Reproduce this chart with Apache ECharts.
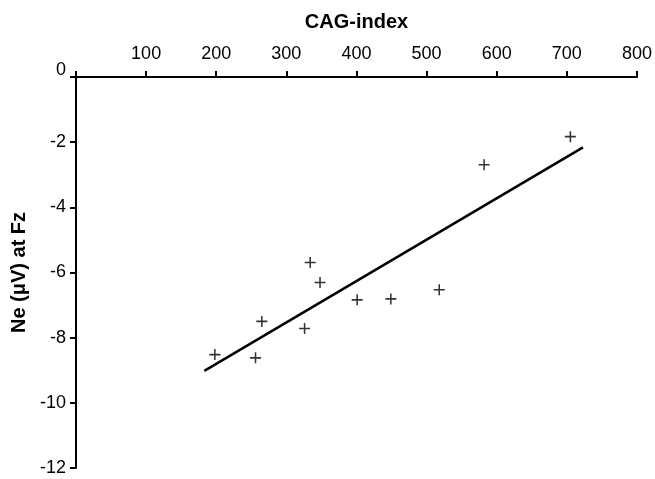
<!DOCTYPE html>
<html>
<head>
<meta charset="utf-8">
<title>CAG-index vs Ne at Fz</title>
<script src="https://cdn.jsdelivr.net/npm/echarts@6/dist/echarts.min.js"></script>
<style>
  html, body { margin: 0; padding: 0; background: #fff; }
  #main { width: 655px; height: 479px; }
</style>
</head>
<body>
<div id="main"></div>
<script>
// data
const cagIndex = [198, 256, 265, 326, 334, 348, 401, 449, 518, 582, 705]
const neAtFz = [-8.52, -8.62, -7.5, -7.72, -5.69, -6.31, -6.84, -6.81, -6.53, -2.69, -1.83]
// regression line end points
const fitX = [183, 723]
const fitY = [-9.02, -2.16]

const xTicks = { min: 0, max: 800, step: 100 }
const yTicks = { min: -12, max: 0, step: 2 }

const points = cagIndex.map((x, i) => [x, neAtFz[i]])
const fitLine = fitX.map((x, i) => [x, fitY[i]])

// plus sign marker
const plus = 'path://M4.3,0h1.4v10h-1.4z M0,4.3h10v1.4h-10z'

const font = 'Liberation Sans, Arial, sans-serif'

const chart = echarts.init(document.getElementById('main'))
chart.setOption({
  animation: false,
  grid: { left: 76, right: 12, top: 77, bottom: 11 },
  xAxis: {
    type: 'value',
    position: 'top',
    min: xTicks.min,
    max: xTicks.max,
    interval: xTicks.step,
    name: 'CAG-index',
    nameLocation: 'middle',
    nameGap: 45,
    nameTextStyle: { color: '#000', fontFamily: font, fontWeight: 'bold', fontSize: 20 },
    axisLine: { lineStyle: { color: '#000', width: 2 } },
    axisTick: { length: 6, lineStyle: { color: '#000', width: 2 } },
    axisLabel: {
      color: '#000',
      fontFamily: font,
      fontSize: 18,
      margin: 14,
      formatter: v => (v === 0 ? '' : v)
    },
    splitLine: { show: false }
  },
  yAxis: {
    type: 'value',
    min: yTicks.min,
    max: yTicks.max,
    interval: yTicks.step,
    name: 'Ne (μV) at Fz',
    nameLocation: 'middle',
    nameGap: 36,
    nameTextStyle: { color: '#000', fontFamily: font, fontWeight: 'bold', fontSize: 20 },
    axisLine: { lineStyle: { color: '#000', width: 2 } },
    axisTick: { length: 6, lineStyle: { color: '#000', width: 2 } },
    axisLabel: {
      color: '#000',
      fontFamily: font,
      fontSize: 18,
      margin: 10,
      formatter: v => (v === 0 ? '{zero|0}' : v),
      rich: {
        zero: { color: '#000', fontFamily: font, fontSize: 18, padding: [0, 0, 14, 0] }
      }
    },
    splitLine: { show: false }
  },
  series: [
    {
      type: 'line',
      data: fitLine,
      symbol: 'none',
      lineStyle: { color: '#000', width: 2.5 },
      z: 1
    },
    {
      type: 'scatter',
      data: points,
      symbol: plus,
      symbolSize: 11,
      itemStyle: { color: '#000' },
      z: 2
    }
  ]
})
</script>
</body>
</html>
